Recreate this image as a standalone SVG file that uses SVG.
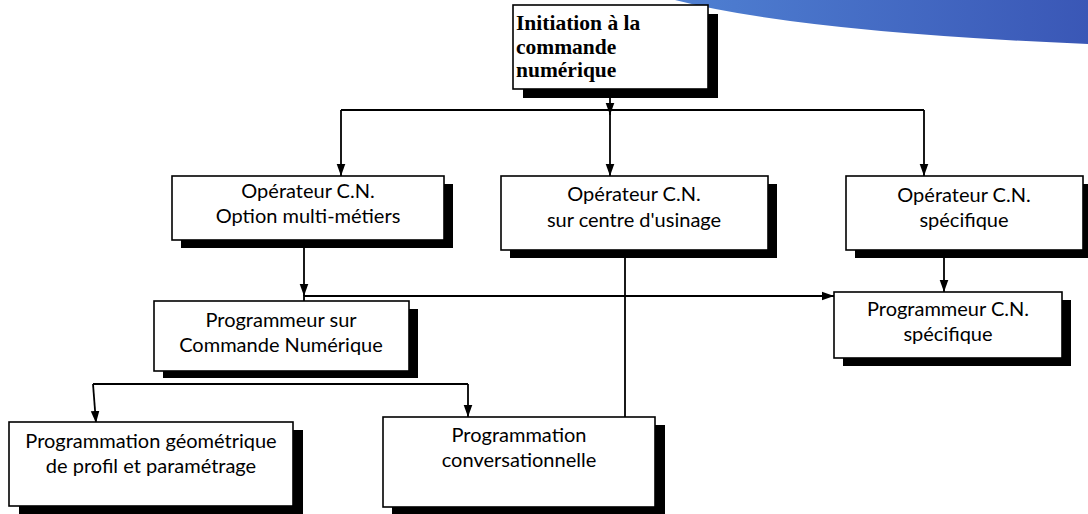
<svg xmlns="http://www.w3.org/2000/svg" width="1088" height="514" viewBox="0 0 1088 514">
<defs>
<linearGradient id="blue" x1="0" y1="0" x2="1" y2="0">
<stop offset="0" stop-color="#4f80d2"/>
<stop offset="1" stop-color="#3a57b6"/>
</linearGradient>
<marker id="ah" markerUnits="userSpaceOnUse" markerWidth="12" markerHeight="16" refX="14" refY="5" orient="auto" viewBox="0 0 14 10">
<path d="M0,0 L14,5 L0,10 Z" fill="#000"/>
</marker>
<style>
.sh{fill:#000}
.bx{fill:#fff;stroke:#000;stroke-width:1.6}
.t{font-family:"Lato","Liberation Sans",sans-serif;font-size:20px;fill:#000;text-anchor:middle}
.tb{font-family:"Liberation Serif","Times New Roman",serif;font-size:21.5px;font-weight:bold;fill:#000}
.c{fill:none;stroke:#000;stroke-width:1.8}
.ca{fill:none;stroke:#000;stroke-width:1.8;marker-end:url(#ah)}
</style>
</defs>
<rect width="1088" height="514" fill="#fff"/>
<path d="M675,0 Q800,32 1088,44 L1088,0 Z" fill="url(#blue)"/>

<g id="connectors">
<path class="c" d="M341,110 L924,110"/>
<path class="ca" d="M610,97 L610,115"/>
<path class="ca" d="M341,110 L341,176"/>
<path class="ca" d="M610,110 L610,176"/>
<path class="ca" d="M924,110 L924,176"/>
<path class="ca" d="M304,248 L304,296"/>
<path class="ca" d="M304,302 L304,296 L834,296"/>
<path class="ca" d="M944,258 L944,292"/>
<path class="c" d="M625,257 L625,417"/>
<path class="c" d="M93,384 L468,384"/>
<path class="ca" d="M468,384 L468,417"/>
<path class="ca" d="M93,384 L96,423"/>
</g>

<g id="n-initiation">
<rect class="sh" x="523" y="14" width="195" height="84"/>
<rect class="bx" x="513" y="5" width="195" height="84"/>
<text class="tb" x="516" y="30">Initiation à la</text>
<text class="tb" x="516" y="54">commande</text>
<text class="tb" x="516" y="77">numérique</text>
</g>

<g id="n-op-multi">
<rect class="sh" x="181" y="184" width="272" height="64"/>
<rect class="bx" x="172" y="176" width="272" height="64"/>
<text class="t" x="308" y="198">Opérateur C.N.</text>
<text class="t" x="308" y="223">Option multi-métiers</text>
</g>

<g id="n-op-centre">
<rect class="sh" x="510" y="184" width="267" height="74"/>
<rect class="bx" x="501" y="176" width="267" height="74"/>
<text class="t" x="634" y="201">Opérateur C.N.</text>
<text class="t" x="634" y="227">sur centre d'usinage</text>
</g>

<g id="n-op-specifique">
<rect class="sh" x="855" y="184" width="237" height="74"/>
<rect class="bx" x="846" y="176" width="237" height="74"/>
<text class="t" x="964" y="202">Opérateur C.N.</text>
<text class="t" x="964" y="227">spécifique</text>
</g>

<g id="n-prog-cn">
<rect class="sh" x="163" y="309" width="255" height="69"/>
<rect class="bx" x="154" y="301" width="255" height="70"/>
<text class="t" x="281" y="327">Programmeur sur</text>
<text class="t" x="281" y="352">Commande Numérique</text>
</g>

<g id="n-prog-specifique">
<rect class="sh" x="843" y="300" width="228" height="66"/>
<rect class="bx" x="834" y="292" width="228" height="66"/>
<text class="t" x="948" y="316">Programmeur C.N.</text>
<text class="t" x="948" y="341">spécifique</text>
</g>

<g id="n-prog-geom">
<rect class="sh" x="19" y="430" width="284" height="84"/>
<rect class="bx" x="9" y="422" width="284" height="84"/>
<text class="t" x="151" y="448">Programmation géométrique</text>
<text class="t" x="151" y="473">de profil et paramétrage</text>
</g>

<g id="n-prog-conv">
<rect class="sh" x="392" y="425" width="273" height="89"/>
<rect class="bx" x="383" y="417" width="272" height="90"/>
<text class="t" x="519" y="442">Programmation</text>
<text class="t" x="519" y="467">conversationnelle</text>
</g>
</svg>
